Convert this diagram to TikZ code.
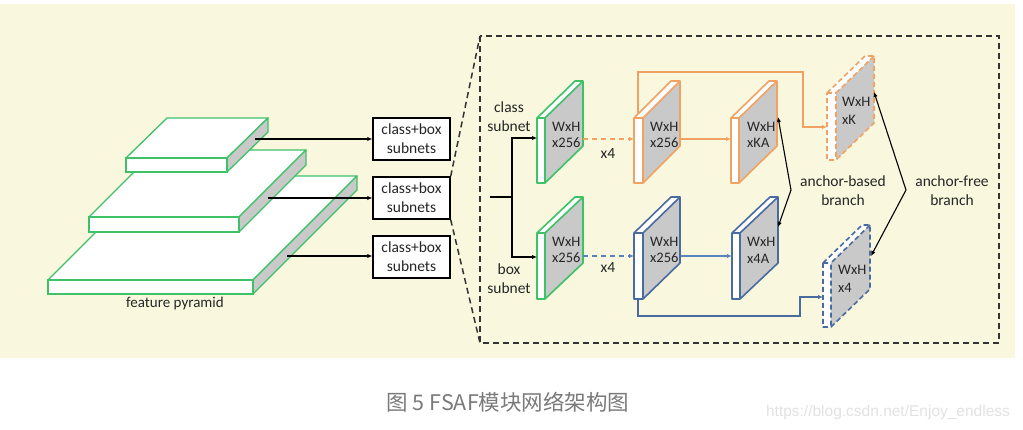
\documentclass[tikz,border=0pt]{standalone}
\usepackage{fontspec}
\setmainfont{Carlito}
\newfontfamily\cjkfont{Noto Sans CJK SC}
\newfontfamily\wmfont{Liberation Sans}
\usetikzlibrary{arrows.meta,calc}
\definecolor{bgbeige}{HTML}{F9F7DE}
\definecolor{pgreen}{HTML}{3DC268}
\definecolor{porange}{HTML}{F0A262}
\definecolor{pblue}{HTML}{4A6BA0}
\definecolor{pbluel}{HTML}{5A82BE}
\definecolor{facegray}{HTML}{C9C9C9}
\definecolor{txtdark}{HTML}{262626}
\definecolor{capgray}{HTML}{7A7A7A}
\definecolor{wmgray}{HTML}{E2E2E2}

% feature-map cuboid: #1 x, #2 y (front top), #3 strip width, #4 height, #5 dx, #6 dy, #7 colour, #8 extra style
\newcommand{\featmap}[8]{%
  \fill[white] (#1,#2) rectangle ({#1+#3},{#2+#4});
  \fill[white] (#1,#2) -- ({#1+#3},#2) -- ({#1+#3+#5},{#2-#6}) -- ({#1+#5},{#2-#6}) -- cycle;
  \fill[facegray] ({#1+#3},#2) -- ({#1+#3+#5},{#2-#6}) -- ({#1+#3+#5},{#2-#6+#4}) -- ({#1+#3},{#2+#4}) -- cycle;
  \draw[#7, line width=1.6pt, line join=round, #8] (#1,#2) -- ({#1+#5},{#2-#6}) -- ({#1+#3+#5},{#2-#6}) -- ({#1+#3+#5},{#2-#6+#4}) -- ({#1+#3},{#2+#4}) -- (#1,{#2+#4}) -- cycle;
  \draw[#7, line width=1.6pt, #8] ({#1+#3+#5},{#2-#6}) -- ({#1+#3},#2) -- ({#1+#3},{#2+#4}) (#1,#2) -- ({#1+#3},#2);
}
% pyramid slab: #1 x1, #2 y, #3 x2, #4 thickness, #5 dx, #6 dy
\newcommand{\pslab}[6]{%
  \filldraw[pgreen, fill=white, line width=1.3pt, line join=round] (#1,#2) -- (#3,#2) -- ({#3+#5},{#2-#6}) -- ({#1+#5},{#2-#6}) -- cycle;
  \filldraw[pgreen, fill=facegray, line width=1.3pt, line join=round] (#3,#2) -- ({#3+#5},{#2-#6}) -- ({#3+#5},{#2-#6+#4}) -- (#3,{#2+#4}) -- cycle;
  \filldraw[pgreen, fill=white, line width=1.3pt] (#1,#2) rectangle (#3,{#2+#4});
}

\begin{document}
\begin{tikzpicture}[x=1pt,y=-1pt,
  lbl/.style={font=\fontsize{15.5}{19}\selectfont, text=txtdark, align=center, inner sep=0pt},
  maptxt/.style={font=\fontsize{14.5}{16}\selectfont, text=txtdark, anchor=west, inner sep=0pt},
  subbox/.style={draw=black, line width=1.4pt, fill=white, minimum width=77pt, minimum height=42pt, inner sep=0pt, align=center, font=\fontsize{15.5}{19}\selectfont, text=txtdark},
  arr/.style={-{Latex[length=5pt,width=4.5pt]}, line width=1.1pt},
  darr/.style={{Latex[length=5pt,width=4.5pt]}-{Latex[length=5pt,width=4.5pt]}, line width=1.1pt, black},
  zoomdash/.style={dash pattern=on 6pt off 4pt, line width=1.5pt, draw=black!80}
]
\useasboundingbox (0,0) rectangle (1023,430);
\fill[white] (0,0) rectangle (1023,430);
\fill[bgbeige] (0,4) rectangle (1015,358);

% ---------- feature pyramid ----------
\pslab{48}{280}{253}{14}{104}{104}
\pslab{89}{217}{239}{15}{67}{67}
\pslab{126}{158}{227}{14}{41}{40}
\node[lbl, font=\fontsize{15}{17}\selectfont] (fp) at (175,304) {feature pyramid};

\coordinate (p1) at (255,139);
\coordinate (p2) at (268,198);
\coordinate (p3) at (287,256);

\node[subbox] (b1) at (411.5,139) {class+box\\subnets};
\node[subbox] (b2) at (411.5,198) {class+box\\subnets};
\node[subbox] (b3) at (411.5,257) {class+box\\subnets};

\draw[arr] (p1) -- (b1.west |- p1);
\draw[arr] (p2) -- (b2.west |- p2);
\draw[arr] (p3) -- (b3.west |- p3);

% ---------- zoomed region ----------
\coordinate (ztl) at (480,36);
\coordinate (zbr) at (999,343);
\coordinate (zbl) at (480,343);
\draw[zoomdash] (ztl) rectangle (zbr);
\draw[zoomdash] (b2.north east) -- (ztl);
\draw[zoomdash] (b2.south east) -- (zbl);

% feature maps
\featmap{537}{118}{8}{65}{38}{37}{pgreen}{}
\featmap{537}{233}{8}{66}{38}{36}{pgreen}{}
\featmap{634}{118}{9}{65}{37}{37}{porange}{}
\featmap{634}{233}{9}{66}{37}{36}{pblue}{}
\featmap{731}{118}{8}{65}{38}{37}{porange}{}
\featmap{732}{233}{8}{66}{38}{36}{pblue}{}
\featmap{827}{93}{9}{67}{38}{37}{porange}{dash pattern=on 5pt off 3pt}
\featmap{823}{263}{8}{64}{39}{38}{pblue}{dash pattern=on 5pt off 3pt}

\node[maptxt] (g1t) at (552,127) {WxH};
\node[maptxt] (g1b) at (552,143) {x256};
\node[maptxt] (g2t) at (552,242) {WxH};
\node[maptxt] (g2b) at (552,258) {x256};
\node[maptxt] (o1t) at (650,127) {WxH};
\node[maptxt] (o1b) at (650,143) {x256};
\node[maptxt] (u1t) at (650,242) {WxH};
\node[maptxt] (u1b) at (650,258) {x256};
\node[maptxt] (o2t) at (747,127) {WxH};
\node[maptxt] (o2b) at (747,143) {xKA};
\node[maptxt] (u2t) at (747,242) {WxH};
\node[maptxt] (u2b) at (747,259) {x4A};
\node[maptxt] (o3t) at (842,102) {WxH};
\node[maptxt] (o3b) at (842,120) {xK};
\node[maptxt] (u3t) at (838,270) {WxH};
\node[maptxt] (u3b) at (838,288) {x4};

% subnet split
\coordinate (zin) at (490,197);
\coordinate (split) at (512,197);
\coordinate (g1in) at (537,138);
\coordinate (g2in) at (537,257);
\draw[line width=1.1pt] (zin) -- (split);
\draw[arr] (split) |- (g1in);
\draw[arr] (split) |- (g2in);
\node[lbl] (cls) at (509,117) {class\\subnet};
\node[lbl] (boxl) at (509,279) {box\\subnet};

% x4 dashed arrows
\coordinate (g1out) at (583,139);
\coordinate (o1in) at (634,139);
\coordinate (g2out) at (583,256);
\coordinate (u1in) at (634,256);
\draw[arr, porange, dash pattern=on 5pt off 4pt] (g1out) -- (o1in);
\draw[arr, pbluel, dash pattern=on 5pt off 4pt] (g2out) -- (u1in);
\node[lbl] (x4a) at (608,154) {x4};
\node[lbl] (x4b) at (608,268) {x4};

% solid arrows
\coordinate (o1out) at (681,139);
\coordinate (o2in) at (731,139);
\coordinate (u1out) at (681,256);
\coordinate (u2in) at (732,256);
\draw[arr, porange] (o1out) -- (o2in);
\draw[arr, pbluel] (u1out) -- (u2in);

% anchor-free feeds
\coordinate (o1top) at (638,114);
\coordinate (oturn) at (803,72);
\coordinate (o3in) at (827,127);
\draw[arr, porange, line width=1.3pt] (o1top) |- (oturn) |- (o3in);
\coordinate (u1bot) at (638,299);
\coordinate (uturn) at (800,316);
\coordinate (u3in) at (823,297);
\draw[arr, pblue, line width=1.3pt] (u1bot) |- (uturn) |- (u3in);

% branch arrows
\coordinate (abtop) at (778,117);
\coordinate (abmid) at (791,190);
\coordinate (abbot) at (778,227);
\draw[darr] (abtop) -- (abmid) -- (abbot);
\node[lbl] (abl) at (843,191) {anchor-based\\branch};
\coordinate (aftop) at (874,92);
\coordinate (afmid) at (906,190);
\coordinate (afbot) at (871,256);
\draw[darr] (aftop) -- (afmid) -- (afbot);
\node[lbl] (afl) at (952,191) {anchor-free\\branch};

% caption and watermark
\node[font=\cjkfont\fontsize{21.5}{24}\selectfont, text=capgray, inner sep=0pt] (cap) at (508,402) {图 5 FSAF模块网络架构图};
\node[font=\wmfont\fontsize{15.5}{18}\selectfont, text=wmgray, inner sep=0pt] (wm) at (888,412) {https://blog.csdn.net/Enjoy\_endless};
\end{tikzpicture}
\end{document}
